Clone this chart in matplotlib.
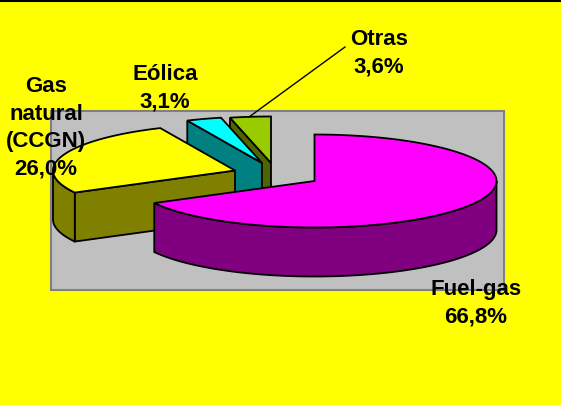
import numpy as np
import matplotlib
matplotlib.use("Agg")
import matplotlib.pyplot as plt
from matplotlib.patches import Polygon, Rectangle

labels = ["Fuel-gas\n66,8%", "Gas\nnatural\n(CCGN)\n26,0%", "Eólica\n3,1%", "Otras\n3,6%"]
values = [66.8, 26.0, 3.1, 3.6]

top_colors = ["#FF00FF", "#FFFF00", "#00FFFF", "#99CC00"]
side_colors = ["#800080", "#808000", "#008080", "#4D6600"]
apexes = [(314.5, 181), (235, 170.5), (262, 163), (271, 163)]
label_pos = [(476, 303), (46, 128), (165, 88), (379, 53)]
RX, RY, DEPTH = 182, 46.5, 49
LW = 1.3

fig = plt.figure(figsize=(5.61, 4.05), dpi=100, facecolor="#FFFF00")
ax = fig.add_axes([0, 0, 1, 1])
ax.set_xlim(0, 561)
ax.set_ylim(405, 0)
ax.axis("off")

ax.add_patch(Rectangle((51.5, 110.5), 453, 179, fc="#C0C0C0", ec="#808080", lw=1.5, zorder=1))
ax.plot([0, 561], [0.5, 0.5], color="black", lw=1.5, zorder=1)

fractions = np.array(values) / sum(values) * 360
ends = 90 - np.cumsum(fractions)
starts = ends + fractions


def arc(cx, cy, t0, t1):
    t = np.radians(np.linspace(t0, t1, 120))
    return np.column_stack([cx + RX * np.cos(t), cy - RY * np.sin(t)])


# back-to-front: Otras, Eólica, Gas, Fuel-gas
for z, i in enumerate([3, 2, 1, 0]):
    cx, cy = apexes[i]
    t0, t1 = starts[i], ends[i]
    zo = 2 + z
    top = np.vstack([[cx, cy], arc(cx, cy, t0, t1)])
    # cut face on the leading edge of the wedge
    if i != 0:
        e = arc(cx, cy, t0, t0)[0]
        face = [(e[0], e[1]), (cx, cy), (cx, cy + DEPTH), (e[0], e[1] + DEPTH)]
        ax.add_patch(Polygon(face, fc=side_colors[i], ec="black", lw=LW, zorder=zo))
    # outer rim, only where the circle faces the viewer
    if i == 1:
        rim = arc(cx, cy, t0 + 360, 180)
    elif i == 0:
        rim = arc(cx, cy, t1, 0)
    else:
        rim = None
    if rim is not None:
        rim_poly = np.vstack([rim, rim[::-1] + [0, DEPTH]])
        ax.add_patch(Polygon(rim_poly, fc=side_colors[i], ec="black", lw=LW, zorder=zo))
    ax.add_patch(Polygon(top, fc=top_colors[i], ec="black", lw=LW, zorder=zo))

# leader line of the Otras label
ax.plot([249, 345], [117, 47], color="black", lw=1.0, zorder=10)

for lab, (x, y) in zip(labels, label_pos):
    ax.text(x, y, lab, ha="center", va="center", family="Liberation Sans",
            fontweight="bold", fontsize=16, linespacing=1.4, color="black", zorder=11)

fig.savefig("out.png", dpi=100, facecolor=fig.get_facecolor())
